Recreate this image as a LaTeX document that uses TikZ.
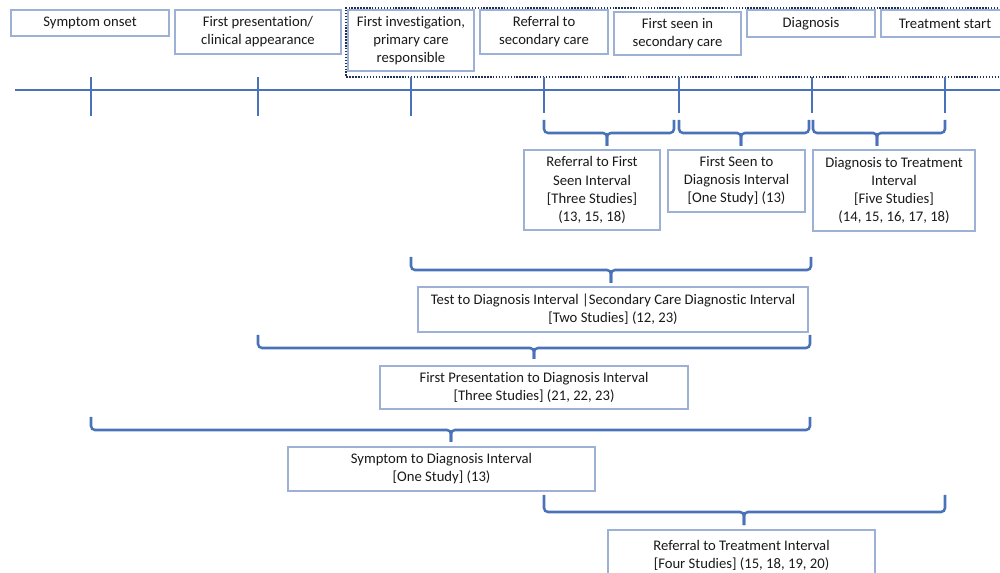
\documentclass[tikz,border=0pt]{standalone}
\usepackage{fontspec}
\setmainfont{Carlito}[Ligatures={NoCommon}]
\definecolor{lineblue}{HTML}{4A72B8}
\definecolor{boxc}{HTML}{9DB0D6}
\definecolor{navy}{HTML}{1F2F55}
\definecolor{txt}{HTML}{1A1A1A}
\newcommand\mybrace[6]{%
  \draw[brc] (#1,#4) |- (#3,#5) -- (#3,#6);
  \draw[brc] (#2,#4) |- (#3,#5) -- (#3,#6);}
\begin{document}
\begin{tikzpicture}[x=0.75pt,y=-0.75pt,
  box/.style={draw=boxc, line width=0.8pt, fill=white, align=center, inner sep=0pt,
    font=\fontsize{11}{13.6}\selectfont, text=txt},
  tl/.style={draw=lineblue, line width=1.9pt},
  brc/.style={draw=lineblue, line width=1.9pt, rounded corners=3pt},
  dotbox/.style={draw=navy, line width=1.4pt, dash pattern=on 1.1pt off 1.1pt}]
\useasboundingbox (0,0) rectangle (1000,573);
\clip (0,0) rectangle (1000,573);
% dotted frame around secondary-care related events
\draw[dotbox] (1010,8) -- (346,8) -- (346,77) -- (1010,77);
% top event boxes
\node[box, minimum width=158*0.75pt, minimum height=26*0.75pt] (e1) at (90,23) {Symptom onset};
\node[box, minimum width=166*0.75pt, minimum height=44*0.75pt] (e2) at (258,32) {First presentation/\\clinical appearance};
\node[box, minimum width=126*0.75pt, minimum height=61*0.75pt] (e3) at (411,40.5) {First investigation,\\primary care\\responsible};
\node[box, minimum width=128*0.75pt, minimum height=44*0.75pt] (e4) at (544,32) {Referral to\\secondary care};
\node[box, minimum width=127*0.75pt, minimum height=43*0.75pt] (e5) at (677.5,33.5) {First seen in\\secondary care};
\node[box, minimum width=128*0.75pt, minimum height=27*0.75pt] (e6) at (811,23.5) {Diagnosis};
\node[box, minimum width=128*0.75pt, minimum height=27*0.75pt] (e7) at (945,23.5) {Treatment start};
% timeline
\coordinate (tlL) at (15,90);
\coordinate (tlR) at (1000,90);
\draw[tl] (tlL) -- (tlR);
\foreach \x in {91,258,411}{\draw[tl] (\x,77) -- (\x,116);}
\foreach \x in {544,679,812,945}{\draw[tl] (\x,77) -- (\x,113);}
% small interval braces
\mybrace{544}{674}{607}{120}{133}{146}
\mybrace{679}{809}{741}{120}{133}{146}
\mybrace{813}{945}{877}{120}{133}{146}
\node[box, minimum width=136*0.75pt, minimum height=80*0.75pt] (i1) at (592,190) {Referral to First\\Seen Interval\\{}[Three Studies]\\(13, 15, 18)};
\node[box, minimum width=137*0.75pt, minimum height=62*0.75pt] (i2) at (736.5,181) {First Seen to\\Diagnosis Interval\\{}[One Study] (13)};
\node[box, minimum width=162*0.75pt, minimum height=81*0.75pt] (i3) at (894,190.5) {Diagnosis to Treatment\\Interval\\{}[Five Studies]\\(14, 15, 16, 17, 18)};
% test to diagnosis
\mybrace{411}{811}{611}{257}{270}{283}
\node[box, minimum width=390*0.75pt, minimum height=45*0.75pt] (i4) at (613,309.5) {Test to Diagnosis Interval |Secondary Care Diagnostic Interval\\{}[Two Studies] (12, 23)};
% first presentation to diagnosis
\mybrace{258}{810}{534}{335}{348}{359}
\node[box, minimum width=308*0.75pt, minimum height=43*0.75pt] (i5) at (534,387.5) {First Presentation to Diagnosis Interval\\{}[Three Studies] (21, 22, 23)};
% symptom to diagnosis
\mybrace{91}{810}{451}{417}{430}{442}
\node[box, minimum width=307*0.75pt, minimum height=44*0.75pt] (i6) at (441.5,469) {Symptom to Diagnosis Interval\\{}[One Study] (13)};
% referral to treatment
\mybrace{544}{945}{744}{495}{512}{525}
\node[box, minimum width=267*0.75pt, minimum height=50*0.75pt] (i7) at (741.5,555) {Referral to Treatment Interval\\{}[Four Studies] (15, 18, 19, 20)};
\end{tikzpicture}
\end{document}
